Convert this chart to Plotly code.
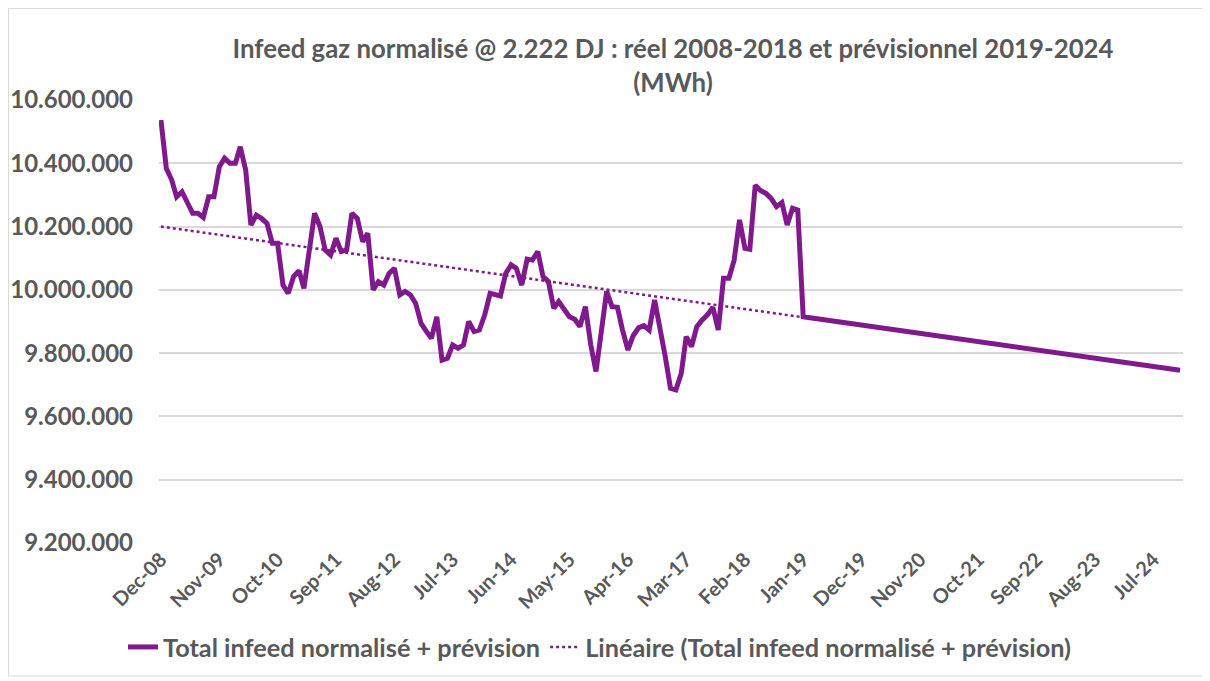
import pandas as pd
import plotly.graph_objects as go

# Real monthly data Dec-08 .. Dec-18 (MWh)
actual_start = "2008-12-01"
actual_values = [
    10537000, 10384000, 10347000, 10294000, 10310000, 10273000, 10242000, 10242000, 10229000, 10294000,
    10294000, 10389000, 10416000, 10400000, 10400000, 10452000, 10379000, 10205000, 10236000, 10226000,
    10210000, 10147000, 10147000, 10015000, 9989000, 10042000, 10061000, 10005000, 10125000, 10242000,
    10200000, 10126000, 10110000, 10163000, 10121000, 10126000, 10242000, 10226000, 10152000, 10179000,
    10000000, 10026000, 10015000, 10052000, 10068000, 9984000, 9995000, 9984000, 9957000, 9894000,
    9868000, 9847000, 9915000, 9778000, 9784000, 9826000, 9815000, 9826000, 9900000, 9868000,
    9873000, 9921000, 9989000, 9984000, 9981000, 10052000, 10079000, 10068000, 10015000, 10097000,
    10094000, 10121000, 10042000, 10026000, 9942000, 9963000, 9936000, 9915000, 9907000, 9884000,
    9947000, 9826000, 9742000, 9873000, 9995000, 9947000, 9945000, 9873000, 9810000, 9855000,
    9880000, 9887000, 9873000, 9968000, 9884000, 9789000, 9689000, 9684000, 9736000, 9852000,
    9821000, 9884000, 9905000, 9921000, 9945000, 9873000, 10037000, 10037000, 10094000, 10221000,
    10131000, 10128000, 10331000, 10314000, 10305000, 10289000, 10263000, 10276000, 10205000, 10258000,
    10252000,
]
# Forecast (straight line) Jan-19 .. Dec-24
forecast_dates = ["2019-01-01", "2024-12-01"]
forecast_values = [9915000, 9746000]
# Linear trendline endpoints
trend_dates = ["2008-12-01", "2024-12-01"]
trend_values = [10200000, 9745000]

tick_dates = pd.date_range("2008-12-01", periods=18, freq="11MS")
y_ticks = [9200000, 9400000, 9600000, 9800000, 10000000, 10200000, 10400000, 10600000]
y_tick_text = [f"{v:,}".replace(",", ".") for v in y_ticks]

actual_dates = pd.date_range(actual_start, periods=len(actual_values), freq="MS")
all_dates = list(actual_dates.strftime("%Y-%m-%d")) + forecast_dates
all_values = actual_values + forecast_values

PURPLE = "#801A8C"
GREY = "#595959"
FONT = "Lato"

fig = go.Figure()
fig.add_trace(go.Scatter(
    x=trend_dates, y=trend_values, mode="lines",
    name="Linéaire (Total infeed normalisé + prévision)",
    line=dict(color=PURPLE, width=2.5, dash="dot"),
))
fig.add_trace(go.Scatter(
    x=all_dates, y=all_values, mode="lines",
    name="Total infeed normalisé + prévision",
    line=dict(color=PURPLE, width=5, shape="linear"),
))

# page body has an 8px margin: figure drawn from (8, 8)
W, H = 1202, 673
L, R, T, B = 151, 27, 92, 138
pw, ph = W - L - R, H - T - B

fig.update_layout(
    width=W, height=H,
    margin=dict(l=L, r=R, t=T, b=B, autoexpand=False),
    paper_bgcolor="white", plot_bgcolor="white",
    font=dict(family=FONT, color=GREY),
    title=dict(
        text="<b>Infeed gaz normalisé @ 2.222 DJ : réel 2008-2018 et prévisionnel 2019-2024<br>(MWh)</b>",
        x=(665 - L) / pw, xref="paper", xanchor="center",
        y=1 - 50 / H, yref="container", yanchor="middle",
        font=dict(family=FONT, size=25.8, color=GREY),
    ),
    showlegend=True,
    legend=dict(
        orientation="h", x=(592 - L) / pw, xanchor="center",
        y=(T + ph - 639) / ph, yanchor="middle",
        font=dict(family=FONT, size=25.3, color=GREY, weight="bold"),
        traceorder="reversed",
    ),
    xaxis=dict(
        type="date", automargin=False,
        range=["2008-11-20", "2024-12-18"],
        tickmode="array", tickvals=list(tick_dates), tickformat="%b-%y",
        tickangle=-45,
        tickfont=dict(family=FONT, size=20, color=GREY, weight="bold"),
        showgrid=False, showline=False, zeroline=False, ticks="",
    ),
    yaxis=dict(
        automargin=False,
        range=[9200000, 10600000],
        tickmode="array", tickvals=y_ticks, ticktext=y_tick_text,
        tickfont=dict(family=FONT, size=24, color=GREY, weight="bold"),
        showgrid=True, gridcolor="#D9D9D9", gridwidth=1.5,
        zeroline=False, showline=False, ticks="",
        ticklabelstandoff=25,
    ),
    shapes=[dict(
        type="rect", xref="paper", yref="paper",
        x0=(0.5 - L) / pw, x1=(1195 - L) / pw,
        y0=(T + ph - 668) / ph, y1=(T + ph - 0.5) / ph,
        line=dict(color="#D9D9D9", width=1), fillcolor="rgba(0,0,0,0)",
        layer="below",
    )],
)

fig.write_html("out.html")
